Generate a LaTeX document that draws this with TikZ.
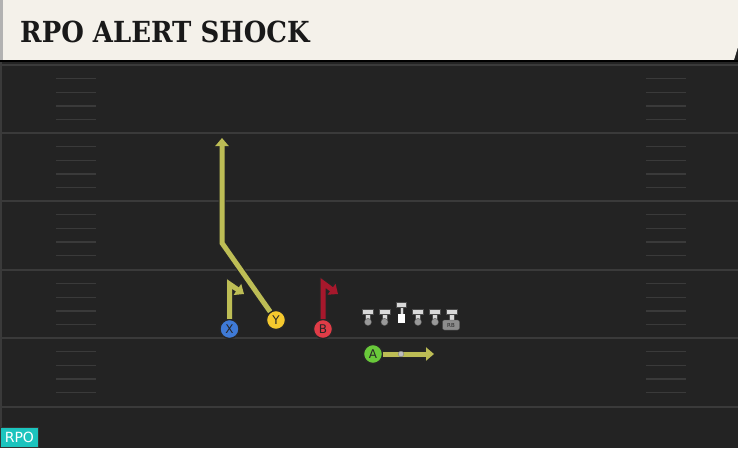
\documentclass[tikz,border=0pt]{standalone}
\usepackage{fontspec}
\newfontfamily\titlefont{DejaVu Serif}[FakeStretch=0.895]
\newfontfamily\labelfont{DejaVu Sans}
\usetikzlibrary{arrows.meta}

\begin{document}
\begin{tikzpicture}[x=1pt,y=-1pt,
		player/.style={circle,draw=black!85,line width=1.3pt,minimum size=19pt,inner sep=0pt,text=black!85,font=\labelfont\fontsize{12}{12}\selectfont},
		route/.style={line width=5pt,draw=routeolive,-{Triangle[length=8pt,width=13pt]},preaction={draw=black!85,line width=7pt,-{Triangle[length=10pt,width=16pt]}}},
		yardline/.style={draw=fieldline,line width=1.8pt},
		hash/.style={draw=fieldline,line width=1.3pt},
		lineman/.style={fill=tgrey,draw=black!70,line width=.4pt}]
		\definecolor{fieldbg}{HTML}{232323}
		\definecolor{fieldline}{HTML}{3A3A3A}
		\definecolor{headerbg}{HTML}{F4F1EA}
		\definecolor{routeolive}{HTML}{BDBD55}
		\definecolor{routered}{HTML}{A6182C}
		\definecolor{xblue}{HTML}{3F7AD6}
		\definecolor{yyellow}{HTML}{F5C92E}
		\definecolor{bred}{HTML}{E03C47}
		\definecolor{agreen}{HTML}{69C93A}
		\definecolor{tgrey}{HTML}{D9D9D9}
		\definecolor{rpoteal}{HTML}{1CC4BE}
		\useasboundingbox (0,0) rectangle (738,448);
		% field
		\fill[fieldbg] (0,0) rectangle (738,448);
		\fill[fieldline] (0,60) rectangle (2,448);
		% header
		\fill[headerbg] (0,0) -- (738,0) -- (738,47) -- (734,60) -- (0,60) -- cycle;
		\fill[black!30] (0,0) rectangle (3,60);
		\draw[black,line width=1.5pt] (0,61) -- (738,61);
		\node[anchor=west,inner sep=0pt,text=black!90,font=\titlefont\bfseries\fontsize{29}{29}\selectfont] (title) at (20,32) {RPO ALERT SHOCK};
		% yard lines
		\foreach \y in {65,133,201,270,338,407}
			\draw[yardline] (0,\y) -- (738,\y);
		% hash marks
		\foreach \y in {65,133,201,270,338}
			\foreach \k in {1,2,3,4} {
				\draw[hash] (56,\y+13.7*\k) -- (96,\y+13.7*\k);
				\draw[hash] (646,\y+13.7*\k) -- (686,\y+13.7*\k);
			}
		% line
		\foreach \x in {368,384.5,418,435} {
			\filldraw[lineman] (\x-2.5,314) rectangle (\x+2.5,321);
			\filldraw[fill=black!40,draw=black!70,line width=.4pt] (\x,322) circle (3.6);
			\filldraw[lineman] (\x-5.5,309.5) rectangle (\x+5.5,314.5);
		}
		% center
		\filldraw[lineman] (399.8,307) rectangle (403.2,314);
		\filldraw[lineman] (396.5,302.5) rectangle (406.5,307.5);
		\fill[white] (397.7,314) rectangle (405.3,323);
		% running back
		\filldraw[lineman] (449.5,314) rectangle (454.5,320);
		\filldraw[lineman] (446.5,309.5) rectangle (457.5,314.5);
		\node[fill=black!45,draw=black!70,line width=.4pt,rounded corners=2pt,minimum width=17pt,minimum height=10pt,inner sep=0pt,text=black!85,font=\labelfont\fontsize{5.5}{5.5}\selectfont] (rb) at (451,325) {RB};
		% players
		\node[player,fill=xblue] (X) at (229.5,329) {X};
		\node[player,fill=yyellow] (Y) at (276,320) {Y};
		\node[player,fill=bred] (B) at (323,329) {B};
		\node[player,fill=agreen] (A) at (373,354) {A};
		% routes
		\draw[route] (Y) -- (222,243) -- (222,138);
		\draw[route] (X) -- (229.5,284) -- (244,294);
		\draw[route,draw=routered] (B) -- (323,283) -- (338,294);
		\draw[route] (A) -- (434,354);
		\filldraw[fill=black!25,draw=black!50,line width=.4pt] (401,354) circle (2.8);
		% tag
		\node[fill=rpoteal,draw=black!80,line width=.8pt,anchor=south west,minimum width=38pt,minimum height=20pt,inner sep=0pt,text=white,font=\labelfont\fontsize{14}{14}\selectfont] (tag) at (0,448) {RPO};
		
\end{tikzpicture}
\end{document}
